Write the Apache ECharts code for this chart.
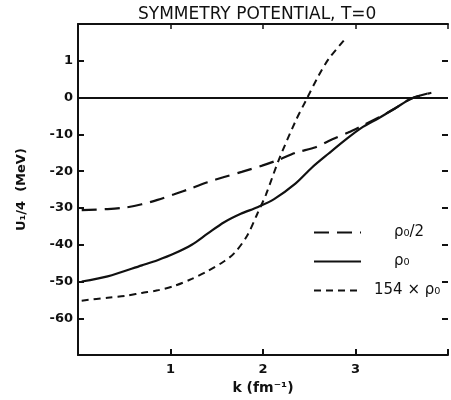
<!DOCTYPE html>
<html>
<head>
<meta charset="utf-8">
<script src="https://cdn.jsdelivr.net/npm/echarts@6/dist/echarts.min.js"></script>
<style>html,body{margin:0;padding:0;background:#fff}#c{width:451px;height:400px}</style>
</head>
<body>
<div id="c"></div>
<script>
const titleText = "SYMMETRY POTENTIAL, T=0";
const xName = "k (fm\u207B\u00B9)";
const yName = "U\u2081/4  (MeV)";
const seriesNames = ["\u03C1\u2080/2", "\u03C1\u2080", "154 \u00D7 \u03C1\u2080"];
const xTickLabels = {1: "1", 2: "2", 3: "3"};
const yTickLabels = {10: "1", 0: "0", "-10": "-10", "-20": "-20", "-30": "-30", "-40": "-40", "-50": "-50", "-60": "-60"};

// rho0/2 (long dash)
const kHalf = [0.04,0.32,0.51,0.69,0.86,1.04,1.23,1.40,1.58,1.77,1.99,2.17,2.35,2.57,2.71,2.92,3.06,3.25,3.43,3.60,3.82];
const uHalf = [-30.6,-30.3,-29.9,-29.0,-27.8,-26.3,-24.6,-23.0,-21.6,-20.2,-18.5,-16.9,-15.0,-13.5,-11.8,-9.5,-7.8,-5.4,-2.9,-0.3,1.3];
// rho0 (solid)
const kRho = [0.04,0.32,0.69,0.86,1.04,1.23,1.40,1.58,1.76,1.94,2.12,2.35,2.53,2.71,2.89,3.06,3.25,3.43,3.60,3.78];
const uRho = [-50.0,-48.6,-45.6,-44.2,-42.4,-40.0,-37.0,-33.9,-31.6,-29.8,-27.6,-23.4,-19.0,-15.2,-11.5,-8.3,-5.6,-2.9,-0.3,1.1];
// 1.54 rho0 (short dash)
const kHigh = [0.04,0.32,0.51,0.69,0.86,1.04,1.23,1.40,1.58,1.69,1.83,1.94,2.03,2.17,2.35,2.47,2.60,2.71,2.89];
const uHigh = [-55.2,-54.4,-53.9,-53.1,-52.4,-51.2,-49.3,-47.2,-44.5,-42.3,-37.5,-31.5,-26.5,-17.0,-6.5,-0.5,5.9,10.5,16.0];

const zip = (a, b) => a.map((v, i) => [v, b[i]]);
const font = "DejaVu Sans";
const lineBase = {type: 'line', showSymbol: false, symbol: 'none', smooth: 0.3, xAxisIndex: 0, yAxisIndex: 0};

const chart = echarts.init(document.getElementById('c'), null, {renderer: 'canvas'});
chart.setOption({
  animation: false,
  backgroundColor: '#fff',
  title: {text: titleText, left: 133, top: 1, textStyle: {fontFamily: font, fontSize: 17, fontWeight: 'normal', color: '#111'}},
  grid: {left: 78, right: 0, top: 24, bottom: 40, containLabel: false},
  legend: {
    orient: 'vertical', left: 308, top: 220, itemWidth: 47, itemHeight: 14, itemGap: 14,
    itemStyle: {opacity: 0},
    textStyle: {fontFamily: font, fontSize: 15, color: '#111'},
    data: [
      {name: seriesNames[0], textStyle: {padding: [0, 0, 0, 28]}},
      {name: seriesNames[1], textStyle: {padding: [0, 0, 0, 28]}},
      {name: seriesNames[2], textStyle: {padding: [0, 0, 0, 8]}}
    ]
  },
  xAxis: [{
    type: 'value', min: 0, max: 4, interval: 1, position: 'bottom',
    name: xName, nameLocation: 'middle', nameGap: 24,
    nameTextStyle: {fontFamily: font, fontSize: 14, fontWeight: 'bold', color: '#111'},
    axisLine: {show: true, onZero: false, lineStyle: {color: '#111', width: 2}},
    axisTick: {show: true, inside: true, length: 6, lineStyle: {color: '#111', width: 2}},
    axisLabel: {fontFamily: font, fontSize: 13, fontWeight: 'bold', color: '#111', margin: 8, formatter: v => xTickLabels[v] || ''},
    splitLine: {show: false}
  }, {
    type: 'value', min: 0, max: 4, interval: 1, position: 'top',
    axisLine: {show: true, onZero: false, lineStyle: {color: '#111', width: 2}},
    axisTick: {show: true, inside: true, length: 5, lineStyle: {color: '#111', width: 1.5}},
    axisLabel: {show: false}, splitLine: {show: false}
  }],
  yAxis: [{
    type: 'value', min: -70, max: 20, interval: 10, position: 'left',
    name: yName, nameLocation: 'middle', nameGap: 50, nameRotate: 90,
    nameTextStyle: {fontFamily: font, fontSize: 13, fontWeight: 'bold', color: '#111'},
    axisLine: {show: true, onZero: false, lineStyle: {color: '#111', width: 2}},
    axisTick: {show: true, inside: true, length: 6, lineStyle: {color: '#111', width: 2}},
    axisLabel: {fontFamily: font, fontSize: 13, fontWeight: 'bold', color: '#111', margin: 5, formatter: v => (yTickLabels[v] !== undefined ? yTickLabels[v] : '')},
    splitLine: {show: false}
  }, {
    type: 'value', min: -70, max: 20, interval: 10, position: 'right',
    axisLine: {show: false, onZero: false},
    axisTick: {show: true, inside: true, length: 6, lineStyle: {color: '#111', width: 2}},
    axisLabel: {show: false}, splitLine: {show: false}
  }],
  series: [
    Object.assign({}, lineBase, {
      name: seriesNames[0], data: zip(kHalf, uHalf),
      lineStyle: {color: '#111', width: 2.2, type: [15, 8]}, itemStyle: {color: '#111'},
      markLine: {silent: true, symbol: 'none', label: {show: false}, lineStyle: {color: '#111', width: 2, type: 'solid'}, data: [{yAxis: 0}]}
    }),
    Object.assign({}, lineBase, {
      name: seriesNames[1], data: zip(kRho, uRho),
      lineStyle: {color: '#111', width: 2.2, type: 'solid'}, itemStyle: {color: '#111'}
    }),
    Object.assign({}, lineBase, {
      name: seriesNames[2], data: zip(kHigh, uHigh),
      lineStyle: {color: '#111', width: 2, type: [7, 5]}, itemStyle: {color: '#111'}
    })
  ]
});
</script>
</body>
</html>
